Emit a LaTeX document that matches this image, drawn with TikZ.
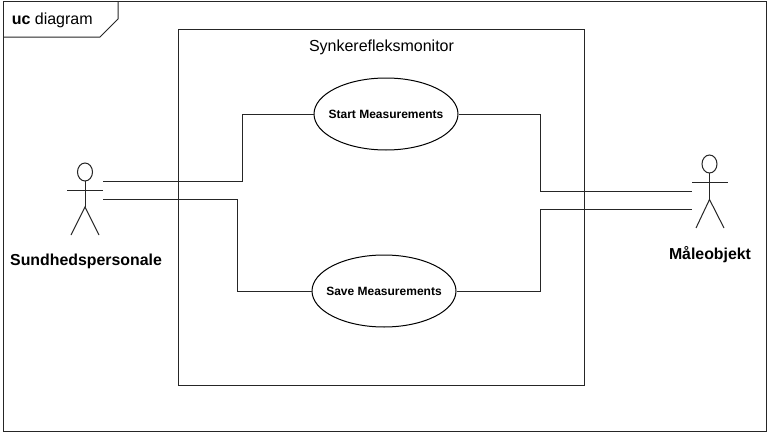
\documentclass[tikz,border=0pt]{standalone}
\usepackage{fontspec}
\setmainfont{Liberation Sans}
\usetikzlibrary{shapes.geometric}
\tikzset{
  line/.style={draw=black!85,line width=0.75pt},
  usecase/.style={ellipse,draw=black,line width=0.75pt,fill=white,minimum width=108pt,minimum height=54pt,inner sep=0pt,font=\bfseries\fontsize{9}{10}\selectfont},
  actorlabel/.style={inner sep=0pt,font=\bfseries\fontsize{11.9}{13}\selectfont},
  plainlabel/.style={inner sep=0pt,font=\fontsize{12}{14}\selectfont}
}
\begin{document}
\begin{tikzpicture}[x=0.75pt,y=-0.75pt]
\useasboundingbox (0,0) rectangle (768,432);
\fill[white] (0,0) rectangle (768,432);
% frame
\draw[line] (3,1) rectangle (766.5,431);
\draw[line] (3,37) -- (100,37) -- (118,19) -- (118,1);
\node[plainlabel,anchor=base west] (title) at (11.5,24) {\textbf{uc} diagram};
% system
\draw[line] (178,29) rectangle (584,385);
\node[plainlabel] (sys) at (381.5,47.5) {Synkerefleksmonitor};
% use cases
\node[usecase] (start) at (386,114) {\makebox[0pt]{Start Measurements}};
\node[usecase] (save) at (384,291) {\makebox[0pt]{\raisebox{-0.5pt}{Save Measurements}}};
% left actor
\draw[line] (85,172) ellipse (7.5 and 9);
\draw[line] (85,181) -- (85,207);
\draw[line] (67,190) -- (103,190);
\draw[line] (71,235) -- (85,207) -- (99,235);
\node[actorlabel] (sund) at (86,261.5) {Sundhedspersonale};
% right actor
\draw[line] (709.5,164) ellipse (7.5 and 9);
\draw[line] (709.5,173) -- (709.5,199.5);
\draw[line] (692,182.5) -- (728,182.5);
\draw[line] (696,228) -- (709.5,199.5) -- (724,228);
\node[actorlabel] (maale) at (710,254.5) {Måleobjekt};
% connector ends
\coordinate (la) at (103,181);
\coordinate (lb) at (103,199);
\coordinate (ra) at (692,191);
\coordinate (rb) at (692,209);
% connectors
\draw[line] (la) -- (242.7,181) -- (242.7,114) -- (start.west);
\draw[line] (lb) -- (237.7,199) -- (237.7,291) -- (save.west);
\draw[line] (start.east) -- (540.6,114) -- (540.6,191) -- (ra);
\draw[line] (save.east) -- (540.6,291) -- (540.6,209) -- (rb);
\end{tikzpicture}
\end{document}
